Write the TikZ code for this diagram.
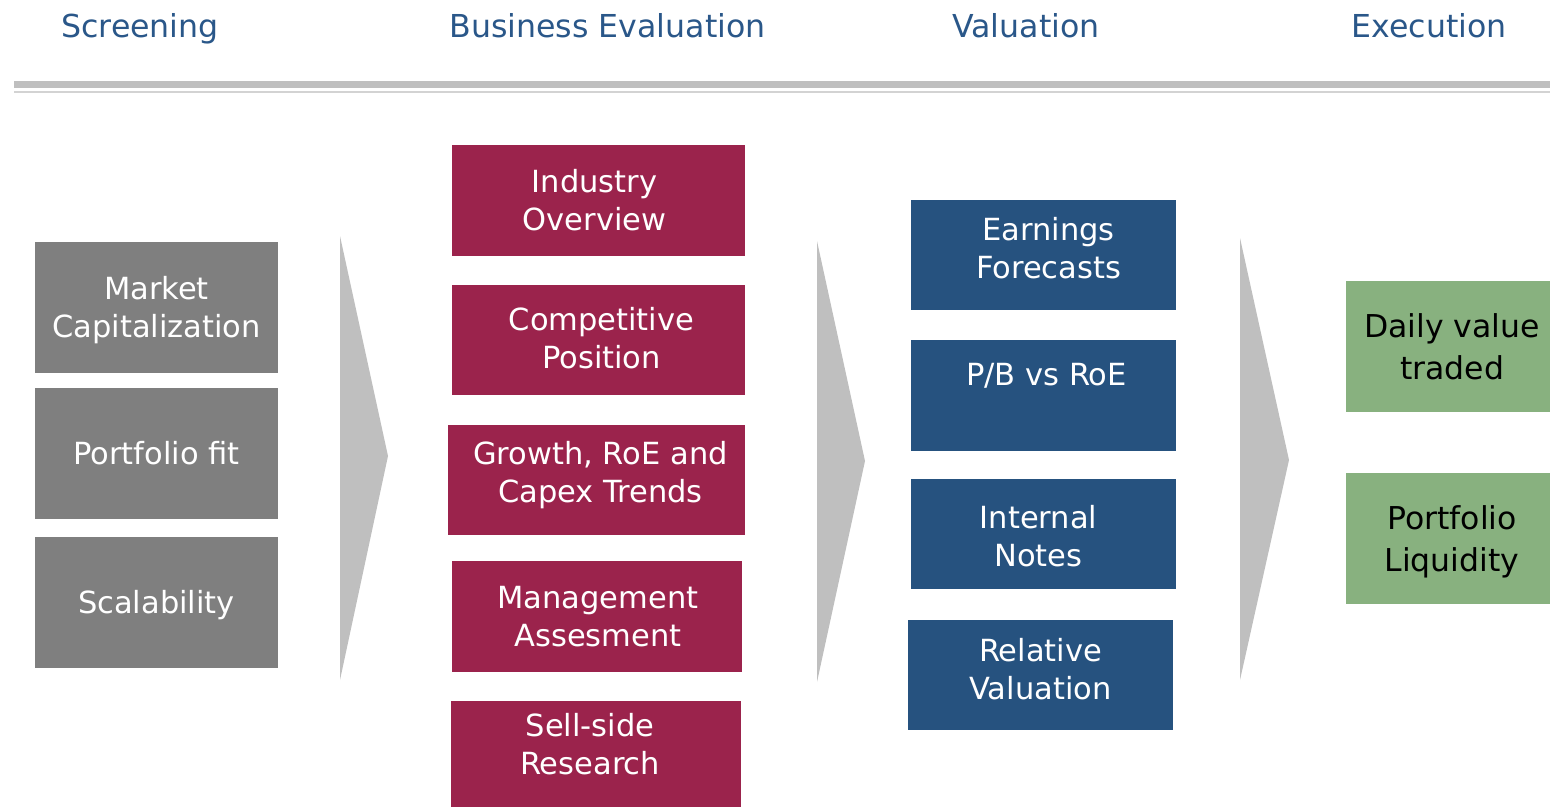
\documentclass[tikz,border=0pt]{standalone}
\usepackage{fontspec}
\setmainfont{DejaVu Sans}
\definecolor{headblue}{HTML}{2A5789}
\definecolor{stepgray}{HTML}{7F7F7F}
\definecolor{stepred}{HTML}{9B234C}
\definecolor{stepblue}{HTML}{26527F}
\definecolor{stepgreen}{HTML}{88B17F}
\definecolor{chevron}{HTML}{BFBFBF}
\definecolor{rulelight}{HTML}{D3D3D3}
\begin{document}
\begin{tikzpicture}[x=1pt,y=-1pt,
  header/.style={anchor=base,text=headblue,font=\fontsize{31.6}{38}\selectfont},
  card/.style={inner sep=0pt,draw=none},
  label/.style={inner sep=0pt,align=center,font=\fontsize{30.5}{38}\selectfont,text=white},
  darklabel/.style={label,text=black,font=\fontsize{31.5}{42}\selectfont},
  graycard/.style={card,fill=stepgray,minimum width=243pt,minimum height=131pt},
  redcard/.style={card,fill=stepred,minimum height=110pt},
  bluecard/.style={card,fill=stepblue,minimum width=265pt,minimum height=110pt},
  greencard/.style={card,fill=stepgreen,minimum width=204pt,minimum height=131pt},
  chev/.style={fill=chevron,draw=none}]
\useasboundingbox (0,0) rectangle (1550,807);

% phase headings
\node[header] (hScreen) at (140,37) {Screening};
\node[header] (hBusiness) at (607.5,37) {Business Evaluation};
\node[header] (hValue) at (1026,37) {Valuation};
\node[header] (hExec) at (1429,37) {Execution};

% double rule under the headings
\fill[chevron] (14,81) rectangle (1550,88);
\fill[rulelight] (14,90.8) rectangle (1550,93.2);

% screening criteria
\node[graycard] (mcap) at (156.5,307.5) {};
\node[graycard] (pfit) at (156.5,453.5) {};
\node[graycard] (scal) at (156.5,602.5) {};
\node[label] (mcapT) at ([shift={(0,3)}]mcap.center) {Market\\Capitalization};
\node[label] (pfitT) at (pfit.center) {Portfolio fit};
\node[label] (scalT) at ([shift={(0,3)}]scal.center) {Scalability};

% business evaluation
\node[redcard,minimum width=293pt,minimum height=111pt] (indus) at (598.5,200.5) {};
\node[redcard,minimum width=293pt] (compet) at (598.5,340) {};
\node[redcard,minimum width=297pt] (growth) at (596.5,480) {};
\node[redcard,minimum width=290pt,minimum height=111pt] (mgmt) at (597,616.5) {};
\node[redcard,minimum width=290pt,minimum height=106pt] (sellside) at (596,754) {};
\node[label] (indusT) at ([shift={(-4,0)}]indus.center) {Industry\\Overview};
\node[label] (competT) at ([shift={(3,-2)}]compet.center) {Competitive\\Position};
\node[label] (growthT) at ([shift={(4,-5)}]growth.center) {Growth, RoE and\\Capex Trends};
\node[label] (mgmtT) at ([shift={(1,0)}]mgmt.center) {Management\\Assesment};
\node[label] (sellsideT) at ([shift={(-6,-10)}]sellside.center) {Sell-side\\Research};

% valuation
\node[bluecard] (earn) at (1043.5,255) {};
\node[bluecard,minimum height=111pt] (pbroe) at (1043.5,395.5) {};
\node[bluecard] (notes) at (1043.5,534) {};
\node[bluecard] (relval) at (1040.5,675) {};
\node[label] (earnT) at ([shift={(5,-7)}]earn.center) {Earnings\\Forecasts};
\node[label] (pbroeT) at ([shift={(3,-2)}]pbroe.center) {P/B vs RoE\\~};
\node[label] (notesT) at ([shift={(-5,2)}]notes.center) {Internal\\Notes};
\node[label] (relvalT) at ([shift={(0,-6)}]relval.center) {Relative\\Valuation};

% execution
\node[greencard] (dvt) at (1448,346.5) {};
\node[greencard] (liq) at (1448,538.5) {};
\node[darklabel] (dvtT) at ([shift={(4,0)}]dvt.center) {Daily value\\traded};
\node[darklabel] (liqT) at ([shift={(4,3)}]liq.center) {Portfolio\\Liquidity};

% chevrons between phases
\fill[chev] (340,236) -- (388,456) -- (340,680) -- cycle;
\fill[chev] (817,241) -- (865,461) -- (817,682) -- cycle;
\fill[chev] (1240,238) -- (1289,460) -- (1240,680) -- cycle;
\end{tikzpicture}
\end{document}
